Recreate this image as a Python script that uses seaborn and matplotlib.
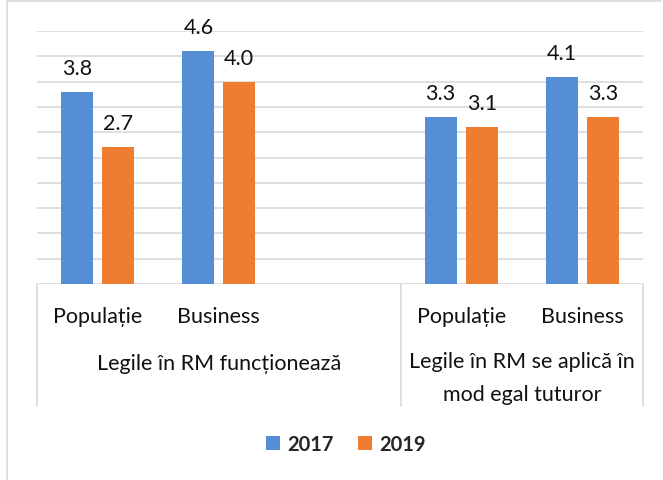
import numpy as np
import pandas as pd
import matplotlib
matplotlib.use("Agg")
import matplotlib.pyplot as plt
from matplotlib.lines import Line2D
import seaborn as sns

# ---- data ----
slots = ["pop1", "bus1", "blank", "pop2", "bus2"]          # blank slot as in the original chart
slot_labels = ["Populație", "Business", "", "Populație", "Business"]
groups = ["Legile în RM funcționează", "Legile în RM se aplică în\nmod egal tuturor"]
years = ["2017", "2019"]
values_2017 = [3.8, 4.6, 3.3, 4.1]
values_2019 = [2.7, 4.0, 3.1, 3.3]
data_slots = ["pop1", "bus1", "pop2", "bus2"]

df = pd.DataFrame({
    "slot": data_slots * 2,
    "year": [years[0]] * 4 + [years[1]] * 4,
    "value": values_2017 + values_2019,
})

BLUE = "#558ED5"
ORANGE = "#ED7D31"
GRID = "#D9D9D9"
TXT = "#111111"
FS = 15.5

sns.set_theme(style="white")
plt.rcParams["font.family"] = ["Lato", "DejaVu Sans"]

W, H = 663, 481
fig = plt.figure(figsize=(W / 100, H / 100), dpi=100)
fig.patch.set_facecolor("white")

x0, x1, yb, yt = 37, 643, 285, 32
ax = fig.add_axes([x0 / W, 1 - yb / H, (x1 - x0) / W, (yb - yt) / H])

sns.barplot(data=df, x="slot", y="value", hue="year", order=slots, hue_order=years,
            palette=[BLUE, ORANGE], width=0.676, gap=0.22, saturation=1,
            ax=ax, legend=True, edgecolor="none", linewidth=0)

ax.set_ylim(0, 5)
ax.set_xlim(-0.5, 4.5)
ax.set_yticks(np.arange(0, 5.01, 0.5))
ax.set_yticklabels([])
ax.tick_params(axis="y", length=0)
ax.yaxis.grid(True, color=GRID, linewidth=1.2)
ax.set_axisbelow(True)
for s in ax.spines.values():
    s.set_visible(False)
ax.set_xlabel("")
ax.set_ylabel("")

# category tick labels
ticks = [i for i, l in enumerate(slot_labels) if l]
ax.set_xticks(ticks)
ax.set_xticklabels([slot_labels[i] for i in ticks], fontsize=FS, color=TXT)
ax.tick_params(axis="x", length=0, pad=16)

# value labels
for cont in ax.containers:
    ax.bar_label(cont, fmt="%.1f", padding=10, fontsize=15.5, color=TXT)

# multi-level category box
tr = ax.get_xaxis_transform()
ybox = -(407 - yb) / (yb - yt)
for xv in [-0.5, 2.5, 4.5]:
    ax.plot([xv, xv], [0, ybox], color=GRID, lw=1.2, transform=tr, clip_on=False)

# group labels
ax.text(1.0, -(364 - yb) / (yb - yt), groups[0], transform=tr, ha="center", va="center",
        fontsize=FS, color=TXT)
ax.text(3.5, -(378.5 - yb) / (yb - yt), groups[1], transform=tr, ha="center", va="center",
        fontsize=FS, color=TXT, linespacing=1.85, multialignment="center")

# legend
sns.move_legend(ax, "center", bbox_to_anchor=(0.51, -(445 - yb) / (yb - yt)), ncol=2,
                frameon=False, title=None, handlelength=0.7, handleheight=0.7,
                handletextpad=0.35, columnspacing=1.2,
                prop={"weight": "bold", "size": 14.5})

# outer chart-area frame (left and top)
fig.add_artist(Line2D([7 / W, 7 / W], [0, 1 - 2 / H], color=GRID, lw=1.2, transform=fig.transFigure))
fig.add_artist(Line2D([7 / W, 661 / W], [1 - 2 / H, 1 - 2 / H], color=GRID, lw=1.2, transform=fig.transFigure))

fig.savefig("out.png", dpi=100)
